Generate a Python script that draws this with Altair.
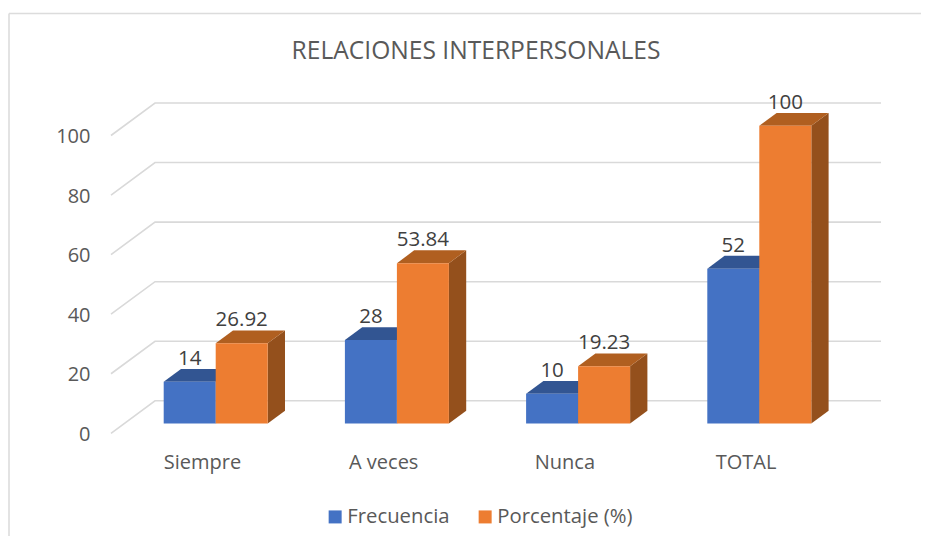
import altair as alt
import pandas as pd

categories = ["Siempre", "A veces", "Nunca", "TOTAL"]
frecuencia = [14, 28, 10, 52]
porcentaje = [26.92, 53.84, 19.23, 100]
label_text = ["14", "28", "10", "52", "26.92", "53.84", "19.23", "100"]
y_ticks = [0, 20, 40, 60, 80, 100]
series_names = ["Frecuencia", "Porcentaje (%)"]

FONT = "Open Sans"
TXT = "#595959"
GRID = "#d9d9d9"
FRONT = ["#4472C4", "#ED7D31"]
TOP = ["#325592", "#B05F20"]
SIDE = ["#2F5290", "#94501C"]

PX_U = 181.2      # pixels per category
PX_V = 2.978      # pixels per value unit
VIEW_W, VIEW_H = 770, 297.8
U0 = -91 / PX_U
U1 = U0 + VIEW_W / PX_U

BAR_W = 52 / PX_U
BAR_SHIFT_U = 13.7 / PX_U
BAR_SHIFT_V = 9.8 / PX_V
DEPTH_U = 17.3 / PX_U
DEPTH_V = 12.8 / PX_V
WALL_U = 44 / PX_U
WALL_V = 32.5 / PX_V

x_scale = alt.Scale(domain=[U0, U1], nice=False, zero=False)
y_scale = alt.Scale(domain=[0, 100], nice=False, zero=False)

bars = []
for s, vals in enumerate([frecuencia, porcentaje]):
    for i, v in enumerate(vals):
        left = i + BAR_SHIFT_U + (s - 1) * BAR_W
        bars.append(dict(cat=categories[i], series=series_names[s], s=s, i=i, v=v,
                         left=left, right=left + BAR_W,
                         base=BAR_SHIFT_V, top=v + BAR_SHIFT_V,
                         label=label_text[s * 4 + i]))
bars_df = pd.DataFrame(bars)

grid_rows = []
for t in y_ticks:
    grid_rows.append(dict(t=t, k=0, u=U0, v=t))
    grid_rows.append(dict(t=t, k=1, u=U0 + WALL_U, v=t + WALL_V))
    grid_rows.append(dict(t=t, k=2, u=U1, v=t + WALL_V))
grid = (
    alt.Chart(pd.DataFrame(grid_rows))
    .mark_line(color=GRID, strokeWidth=1.6, clip=False)
    .encode(
        x=alt.X("u:Q", scale=x_scale,
                axis=alt.Axis(values=list(range(len(categories))), title=None, domain=False, ticks=False,
                              grid=False, labelFont=FONT, labelFontSize=20, labelColor=TXT, labelPadding=19,
                              labelExpr="['Siempre','A veces','Nunca','TOTAL'][datum.value]")),
        y=alt.Y("v:Q", scale=y_scale,
                axis=alt.Axis(values=y_ticks, title=None, domain=False, ticks=False, grid=False,
                              labelFont=FONT, labelFontSize=20, labelColor=TXT, labelPadding=21, labelOffset=1)),
        detail="t:N",
        order="k:Q",
    )
)

layers = [grid]
for s in range(2):
    rows_top, rows_side = [], []
    for b in bars:
        if b["s"] != s:
            continue
        rows_top.append(dict(i=b["i"], a=b["left"], a2=b["right"], v=b["top"]))
        rows_top.append(dict(i=b["i"], a=b["left"] + DEPTH_U, a2=b["right"] + DEPTH_U, v=b["top"] + DEPTH_V))
        rows_side.append(dict(i=b["i"], a=b["right"], v=b["top"], v2=b["base"]))
        rows_side.append(dict(i=b["i"], a=b["right"] + DEPTH_U, v=b["top"] + DEPTH_V, v2=b["base"] + DEPTH_V))
    layers.append(
        alt.Chart(pd.DataFrame(rows_side)).mark_area(color=SIDE[s], orient="vertical", clip=False).encode(
            x=alt.X("a:Q", scale=x_scale), y=alt.Y("v:Q", scale=y_scale, stack=None),
            y2="v2:Q", detail="i:N")
    )
    layers.append(
        alt.Chart(pd.DataFrame(rows_top)).mark_area(color=TOP[s], orient="horizontal", clip=False).encode(
            y=alt.Y("v:Q", scale=y_scale), x=alt.X("a:Q", scale=x_scale, stack=None),
            x2="a2:Q", detail="i:N")
    )

front = (
    alt.Chart(bars_df)
    .mark_rect(clip=False)
    .encode(
        x=alt.X("left:Q", scale=x_scale),
        x2="right:Q",
        y=alt.Y("base:Q", scale=y_scale),
        y2="top:Q",
        color=alt.Color("series:N",
                        scale=alt.Scale(domain=series_names, range=FRONT),
                        legend=alt.Legend(orient="none", legendX=214, legendY=371, direction="horizontal",
                                          title=None, symbolType="square", symbolSize=169, symbolStrokeWidth=0,
                                          labelFont=FONT, labelFontSize=20.3, labelColor=TXT, labelOffset=2,
                                          columnPadding=25, padding=0)),
    )
)
layers.append(front)

bars_df["mid"] = (bars_df["left"] + bars_df["right"]) / 2
labels = (
    alt.Chart(bars_df)
    .mark_text(font=FONT, fontSize=20.5, color="#404040", baseline="middle", align="center", dy=-23, clip=False)
    .encode(x=alt.X("mid:Q", scale=x_scale), y=alt.Y("top:Q", scale=y_scale), text="label:N")
)
layers.append(labels)

frame = pd.DataFrame([dict(a=-102, b=VIEW_W + 40)])
frame_top = alt.Chart(frame).mark_rule(color="#dcdcdc", strokeWidth=1.6).encode(
    x=alt.value(-102), x2=alt.value(VIEW_W + 40), y=alt.value(-122))
frame_left = alt.Chart(frame).mark_rule(color="#dcdcdc", strokeWidth=1.6).encode(
    x=alt.value(-102), y=alt.value(-122), y2=alt.value(VIEW_H + 110))
layers = [frame_top, frame_left] + layers

chart = (
    alt.layer(*layers)
    .properties(
        width=VIEW_W, height=VIEW_H,
        background="white",
        autosize=alt.AutoSizeParams(type="none"),
        padding={"left": 103, "top": 127.5, "right": 40, "bottom": 102.7},
        title=alt.Title("RELACIONES INTERPERSONALES", font=FONT, fontSize=24.6, fontWeight="normal",
                        color=TXT, anchor="middle", frame="group", dx=-20, offset=-52),
    )
    .configure_view(stroke=None)
)
chart.save("out.html", embed_options={"renderer": "svg", "actions": False})
